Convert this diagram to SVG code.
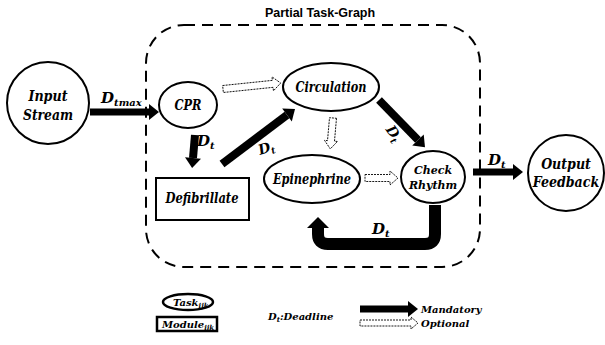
<svg xmlns="http://www.w3.org/2000/svg" width="605" height="345" viewBox="0 0 605 345">
<defs>
<style>
text.lbl{font-family:'DejaVu Serif',serif;font-weight:700;font-style:italic;fill:#000}
text.cond{font-family:'DejaVu Serif Condensed','DejaVu Serif',serif;font-stretch:condensed}
.node{fill:#fff;stroke:#000;stroke-width:2}
.mand{fill:none;stroke:#000;stroke-linecap:butt}
.opt{fill:#fff;stroke:#000;stroke-width:0.9;stroke-dasharray:2,1}
text.title{font-family:'Liberation Sans',sans-serif;font-weight:700;font-size:12.5px;fill:#000}
</style>
<marker id="head" markerUnits="userSpaceOnUse" viewBox="0 -8 10 16" markerWidth="10" markerHeight="16" refX="0" refY="0" orient="auto" overflow="visible">
<path d="M0,-8 L10,0 L0,8 z" fill="#000"/>
</marker>
</defs>
<rect width="605" height="345" fill="#fff"/>
<text class="title" x="320" y="17" text-anchor="middle">Partial Task-Graph</text>
<rect x="146" y="25" width="334" height="242" rx="38" ry="38" fill="none" stroke="#000" stroke-width="2" stroke-dasharray="11,7"/>

<g id="connectors">
<line class="mand" x1="90" y1="112" x2="149" y2="112" stroke-width="7" marker-end="url(#head)"/>
<line class="mand" x1="195" y1="135" x2="193" y2="158" stroke-width="8" marker-end="url(#head)"/>
<line class="mand" x1="222" y1="164" x2="287" y2="115" stroke-width="8" marker-end="url(#head)"/>
<line class="mand" x1="379" y1="100" x2="418" y2="140" stroke-width="8" marker-end="url(#head)"/>
<line class="mand" x1="473" y1="172" x2="513" y2="172" stroke-width="7" marker-end="url(#head)"/>
<path class="mand" d="M435,205 L435,234 Q435,244 425,244 L328,244 Q318,244 318,234 L318,227" stroke-width="12"/>
<polygon points="307,228 318,217 329,228" fill="#000"/>
<polygon class="opt" transform="translate(223,89) rotate(-5.9)" points="0,-3.5 50,-3.5 50,-7 58,0 50,7 50,3.5 0,3.5"/>
<polygon class="opt" transform="translate(333,118) rotate(95)" points="0,-3.5 23,-3.5 23,-6.5 31,0 23,6.5 23,3.5 0,3.5"/>
<polygon class="opt" transform="translate(365,178) rotate(0)" points="0,-3.5 25,-3.5 25,-7 33,0 25,7 25,3.5 0,3.5"/>
<text class="lbl" x="101" y="103" font-size="15">D<tspan font-size="10" dy="3">tmax</tspan></text>
<text class="lbl" x="197" y="146" font-size="15">D<tspan font-size="10" dy="3">t</tspan></text>
<text class="lbl" x="258" y="153" font-size="14" transform="rotate(-18 265 148)">D<tspan font-size="9" dy="3">t</tspan></text>
<text class="lbl" x="386" y="136" font-size="14" transform="rotate(55 392 132)">D<tspan font-size="9" dy="3">t</tspan></text>
<text class="lbl" x="488" y="165" font-size="15">D<tspan font-size="10" dy="3">t</tspan></text>
<text class="lbl" x="372" y="234" font-size="15">D<tspan font-size="10" dy="3">t</tspan></text>
</g>

<g id="input">
<circle class="node" cx="48" cy="103" r="41"/>
<text class="lbl" x="48" y="101" font-size="15.5" text-anchor="middle" textLength="39" lengthAdjust="spacingAndGlyphs">Input</text>
<text class="lbl" x="48" y="120" font-size="15.5" text-anchor="middle" textLength="50" lengthAdjust="spacingAndGlyphs">Stream</text>
</g>
<g id="cpr">
<ellipse class="node" cx="188" cy="105" rx="29" ry="23"/>
<text class="lbl" x="188" y="110" font-size="14.5" text-anchor="middle" textLength="27" lengthAdjust="spacingAndGlyphs">CPR</text>
</g>
<g id="defibrillate">
<rect class="node" x="156" y="178" width="93" height="42"/>
<text class="lbl" x="202" y="203" font-size="15" text-anchor="middle" textLength="73" lengthAdjust="spacingAndGlyphs">Defibrillate</text>
</g>
<g id="circulation">
<ellipse class="node" cx="331" cy="87" rx="48" ry="24"/>
<text class="lbl" x="331" y="92" font-size="15" text-anchor="middle" textLength="71" lengthAdjust="spacingAndGlyphs">Circulation</text>
</g>
<g id="epinephrine">
<ellipse class="node" cx="312" cy="179" rx="48" ry="24"/>
<text class="lbl" x="312" y="184" font-size="15" text-anchor="middle" textLength="78" lengthAdjust="spacingAndGlyphs">Epinephrine</text>
</g>
<g id="checkrhythm">
<ellipse class="node" cx="433" cy="177" rx="32" ry="26"/>
<text class="lbl" x="433" y="174" font-size="11" text-anchor="middle">Check</text>
<text class="lbl" x="433" y="189" font-size="11" text-anchor="middle">Rhythm</text>
</g>
<g id="output">
<circle class="node" cx="566" cy="173" r="38"/>
<text class="lbl cond" x="566" y="169" font-size="14" text-anchor="middle">Output</text>
<text class="lbl cond" x="566" y="187" font-size="14" text-anchor="middle">Feedback</text>
</g>

<g id="legend">
<ellipse cx="188" cy="302" rx="25" ry="8" fill="#fff" stroke="#000" stroke-width="2.5"/>
<text class="lbl" x="173" y="306" font-size="10">Task<tspan font-size="7" dy="2">ijk</tspan></text>
<rect x="157" y="317" width="60" height="14" fill="#fff" stroke="#000" stroke-width="2.5"/>
<text class="lbl" x="162" y="328" font-size="10">Module<tspan font-size="7" dy="2">ijk</tspan></text>
<text class="lbl" x="268" y="320" font-size="10">D<tspan font-size="7" dy="2">t</tspan><tspan dy="-2">:Deadline</tspan></text>
<line class="mand" x1="360" y1="309" x2="408" y2="309" stroke-width="7" marker-end="url(#head)"/>
<text class="lbl" x="421" y="313" font-size="10">Mandatory</text>
<polygon class="opt" transform="translate(360,323)" points="0,-3 51,-3 51,-6 58,0 51,6 51,3 0,3"/>
<text class="lbl" x="421" y="327" font-size="10">Optional</text>
</g>
</svg>
